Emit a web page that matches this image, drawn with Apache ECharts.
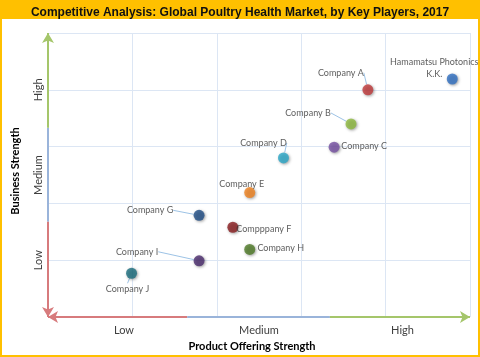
<!DOCTYPE html>
<html>
<head>
<meta charset="utf-8">
<script src="https://cdn.jsdelivr.net/npm/echarts@6/dist/echarts.min.js"></script>
<style>
html,body{margin:0;padding:0;background:#fff;}
#chart{width:480px;height:357px;}
</style>
</head>
<body>
<div id="chart"></div>
<script>
// ---- data ----
var titleText = 'Competitive Analysis: Global Poultry Health Market, by Key Players, 2017';
var xAxisTitle = 'Product Offering Strength';
var yAxisTitle = 'Business Strength';
var levelLabels = ['Low', 'Medium', 'High'];
var xLevelValues = [0.9, 2.5, 4.2];
var yLevelValues = [1.0, 2.5, 4.0];
var companies = ['Hamamatsu Photonics\nK.K.', 'Company A', 'Company B', 'Company C', 'Company D',
                 'Company E', 'Compppany F', 'Company G', 'Company H', 'Company I', 'Company J'];
var productStrength = [4.79, 3.79, 3.59, 3.39, 2.79, 2.39, 2.19, 1.79, 2.39, 1.79, 0.99];
var businessStrength = [4.19, 4.00, 3.40, 2.99, 2.80, 2.19, 1.58, 1.79, 1.19, 0.99, 0.77];
// axis colour bands (low / medium / high)
var bandBreaksX = [0, 1.65, 3.34, 5];
var bandBreaksY = [0, 1.68, 3.33, 5];

// ---- styles ----
var dotColors = ['#2F6FC2', '#C1393B', '#8DB93F', '#7650A2', '#2BA8C8', '#F0821E',
                 '#8A1D1F', '#1F4E86', '#4F7B27', '#4B2C6E', '#1C6E7E'];
var labelOffsets = [[-18, -11], [-27, -17], [-43, -11], [30, -1], [-20, -15],
                    [-8, -9], [31, 2], [-49, -5], [31, -1], [-62, -9], [-4, 16]];
var leaderShown = [false, true, true, false, true, false, false, true, false, true, true];
var bandColors = ['#D77B7D', '#9AB4DA', '#A5C66B'];

var chart = echarts.init(document.getElementById('chart'), null, {renderer: 'canvas'});

var points = companies.map(function (n, i) {
  return {
    name: n,
    value: [productStrength[i], businessStrength[i]],
    itemStyle: {color: dotColors[i]},
    labelLine: {show: leaderShown[i]}
  };
});

function bandLines() {
  var out = [];
  for (var i = 0; i < 3; i++) {
    out.push([
      {coord: [bandBreaksX[i], 0], symbol: 'none'},
      {coord: [bandBreaksX[i + 1], 0], symbol: 'none'}
    ]);
  }
  for (var j = 0; j < 3; j++) {
    out.push([
      {coord: [0, bandBreaksY[j]], symbol: 'none'},
      {coord: [0, bandBreaksY[j + 1]], symbol: 'none'}
    ]);
  }
  for (var k = 0; k < out.length; k++) {
    out[k][0].lineStyle = {color: bandColors[k % 3], width: 2, type: 'solid'};
  }
  // arrows: red left / down, green right / up
  out[0][0].symbol = 'arrow';
  out[2][1].symbol = 'arrow';
  out[3][0].symbol = 'arrow';
  out[5][1].symbol = 'arrow';
  return out;
}

function labelFor(values) {
  return function (v) {
    for (var i = 0; i < values.length; i++) {
      if (Math.abs(v - values[i]) < 1e-6) return levelLabels[i];
    }
    return '';
  };
}

var option = {
  animation: false,
  backgroundColor: '#ffffff',
  textStyle: {fontFamily: 'Lato'},
  title: {
    text: titleText,
    left: 'center',
    top: 2,
    textStyle: {fontFamily: 'Liberation Sans', fontSize: 12, fontWeight: 'bold', color: '#111'}
  },
  graphic: [
    {type: 'rect', z: -10, shape: {x: 0, y: 0, width: 480, height: 19}, style: {fill: '#FFC000'}},
    {type: 'rect', z: 100, shape: {x: 1, y: 1, width: 478, height: 355}, style: {fill: 'none', stroke: '#FFC000', lineWidth: 2}}
  ],
  grid: {left: 48, right: 10, top: 33, bottom: 39},
  xAxis: [{
    type: 'value', min: 0, max: 5, interval: 1,
    axisLine: {show: false}, axisTick: {show: false}, axisLabel: {show: false},
    splitLine: {show: true, lineStyle: {color: '#DCE6F4', width: 1}},
    name: xAxisTitle, nameLocation: 'middle', nameGap: 24,
    nameTextStyle: {fontFamily: 'Lato', fontWeight: 'bold', fontSize: 11, color: '#000', padding: [0, 14, 0, 0]}
  }, {
    type: 'value', min: 0, max: 5, interval: 0.1, position: 'bottom',
    axisLine: {show: false}, axisTick: {show: false}, splitLine: {show: false},
    axisLabel: {show: true, interval: 0, margin: 8, fontSize: 11, color: '#404040', fontFamily: 'Lato',
                formatter: labelFor(xLevelValues), showMinLabel: true, showMaxLabel: true}
  }],
  yAxis: [{
    type: 'value', min: 0, max: 5, interval: 1,
    axisLine: {show: false}, axisTick: {show: false}, axisLabel: {show: false},
    splitLine: {show: true, lineStyle: {color: '#DCE6F4', width: 1}},
    name: yAxisTitle, nameLocation: 'middle', nameGap: 27, nameRotate: 90,
    nameTextStyle: {fontFamily: 'Lato', fontWeight: 'bold', fontSize: 11, color: '#000', padding: [0, 0, 0, 8]}
  }, {
    type: 'value', min: 0, max: 5, interval: 0.5, position: 'left',
    axisLine: {show: false}, axisTick: {show: false}, splitLine: {show: false},
    axisLabel: {show: true, interval: 0, rotate: 90, margin: 4, fontSize: 11, color: '#404040', fontFamily: 'Lato',
                formatter: labelFor(yLevelValues)}
  }],
  series: [{
    type: 'scatter',
    clip: false,
    symbolSize: 11,
    data: points,
    itemStyle: {shadowBlur: 3, shadowColor: 'rgba(0,0,0,0.45)', shadowOffsetX: 1, shadowOffsetY: 1},
    label: {
      show: true, position: 'inside', formatter: '{b}',
      fontFamily: 'Lato', fontSize: 9, color: '#333', lineHeight: 12, align: 'center'
    },
    labelLine: {lineStyle: {color: '#9DC3E6', width: 1}},
    labelLayout: function (p) {
      var o = labelOffsets[p.dataIndex];
      return {dx: o[0], dy: o[1]};
    },
    markLine: {
      silent: true, animation: false,
      symbolSize: [9, 10],
      label: {show: false},
      emphasis: {disabled: true},
      data: bandLines()
    },
    z: 5
  }]
};
chart.setOption(option);
</script>
</body>
</html>
